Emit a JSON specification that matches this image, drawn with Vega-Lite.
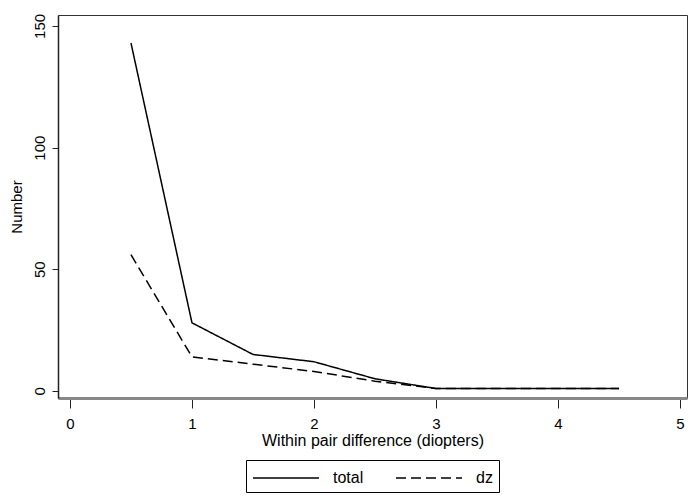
{
  "$schema": "https://vega.github.io/schema/vega-lite/v6.json",
  "autosize": "none",
  "width": 629,
  "height": 383,
  "padding": {"left": 58, "top": 15, "right": 2, "bottom": 100},
  "background": "white",
  "config": {
    "font": "Liberation Sans",
    "view": {"stroke": "#333333", "strokeWidth": 1},
    "legend": {"layout": {"bottom": {"anchor": "middle"}}}
  },
  "data": {
    "values": [
      {"diff": 0.5, "series": "total", "n": 143},
      {"diff": 1.0, "series": "total", "n": 28},
      {"diff": 1.5, "series": "total", "n": 15},
      {"diff": 2.0, "series": "total", "n": 12},
      {"diff": 2.5, "series": "total", "n": 5},
      {"diff": 3.0, "series": "total", "n": 1},
      {"diff": 3.5, "series": "total", "n": 1},
      {"diff": 4.0, "series": "total", "n": 1},
      {"diff": 4.5, "series": "total", "n": 1},
      {"diff": 0.5, "series": "dz", "n": 56},
      {"diff": 1.0, "series": "dz", "n": 14},
      {"diff": 1.5, "series": "dz", "n": 11},
      {"diff": 2.0, "series": "dz", "n": 8},
      {"diff": 2.5, "series": "dz", "n": 4},
      {"diff": 3.0, "series": "dz", "n": 1},
      {"diff": 3.5, "series": "dz", "n": 1},
      {"diff": 4.0, "series": "dz", "n": 1},
      {"diff": 4.5, "series": "dz", "n": 1}
    ]
  },
  "mark": {"type": "line", "color": "black", "strokeWidth": 1.5},
  "encoding": {
    "x": {
      "field": "diff", "type": "quantitative",
      "scale": {"domain": [-0.098, 5.057], "nice": false, "zero": false},
      "axis": {
        "title": "Within pair difference (diopters)",
        "values": [0, 1, 2, 3, 4, 5],
        "grid": false,
        "domainColor": "#888888", "domainWidth": 3,
        "tickColor": "#222222", "tickSize": 10, "tickWidth": 1,
        "labelFontSize": 15, "labelColor": "black", "labelPadding": 8,
        "titleFontSize": 16, "titleFontWeight": "normal", "titleColor": "black", "titlePadding": 1
      }
    },
    "y": {
      "field": "n", "type": "quantitative",
      "scale": {"domain": [-2.9, 154.5], "nice": false, "zero": false},
      "axis": {
        "title": "Number",
        "values": [0, 50, 100, 150],
        "grid": false,
        "domainColor": "#222222", "domainWidth": 1.5,
        "tickColor": "#222222", "tickSize": 6, "tickWidth": 1,
        "labelAngle": 270, "labelAlign": "center", "labelBaseline": "bottom",
        "labelFontSize": 15, "labelColor": "black", "labelPadding": 5,
        "titleFontSize": 15, "titleFontWeight": "normal", "titleColor": "black", "titlePadding": 8
      }
    },
    "strokeDash": {
      "field": "series", "type": "nominal",
      "scale": {"domain": ["total", "dz"], "range": [[1, 0], [10, 5]]},
      "legend": {
        "title": null,
        "orient": "bottom",
        "direction": "horizontal",
        "symbolType": "M-1,0H5",
        "symbolSize": 484,
        "symbolStrokeWidth": 1.5,
        "symbolStrokeColor": "black",
        "labelFontSize": 16,
        "labelColor": "black",
        "labelOffset": 57,
        "strokeColor": "black",
        "padding": 6,
        "columnPadding": 29,
        "offset": 12
      }
    }
  }
}
